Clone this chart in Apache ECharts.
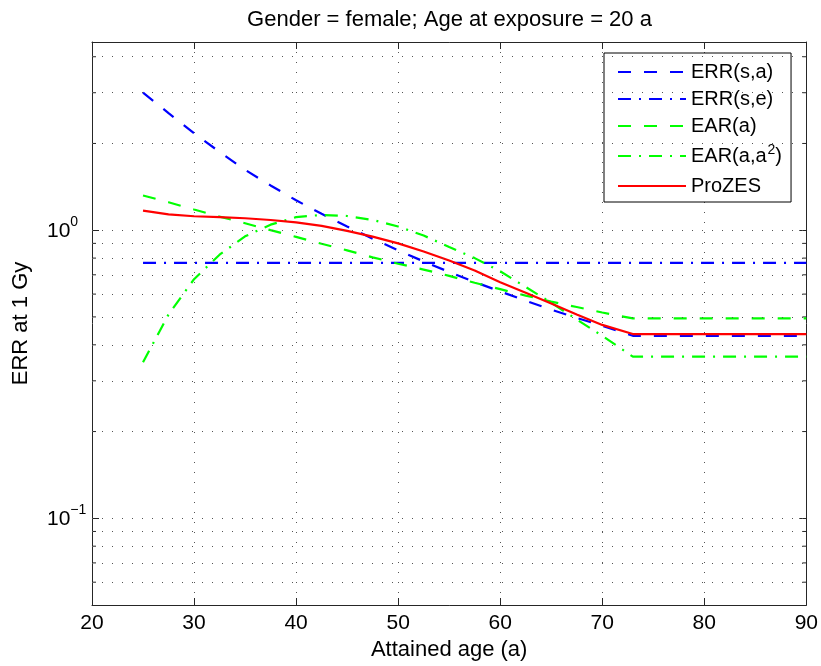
<!DOCTYPE html>
<html><head><meta charset="utf-8">
<script src="https://cdn.jsdelivr.net/npm/echarts@6/dist/echarts.min.js"></script>
<style>html,body{margin:0;padding:0;background:#fff}#c{width:821px;height:666px}</style>
</head><body><div id="c"></div>
<script>
// ---- data ----
const ages   = [25, 27.5, 30, 32.5, 35, 37.5, 40, 42.5, 45, 47.5, 50, 52.5, 55, 57.5, 60, 62.5, 65, 67.5, 70, 73, 90];
const errSA  = [3.00, 2.55, 2.17, 1.87, 1.62, 1.43, 1.27, 1.14, 1.03, 0.934, 0.852, 0.779, 0.716, 0.661, 0.613, 0.569, 0.530, 0.496, 0.466, 0.430, 0.430];
const errSEAges = [25, 90];
const errSE  = [0.77, 0.77];
const earA   = [1.32, 1.25, 1.18, 1.115, 1.057, 1.00, 0.948, 0.897, 0.851, 0.805, 0.765, 0.730, 0.694, 0.657, 0.624, 0.593, 0.565, 0.541, 0.518, 0.494, 0.494];
const earA2  = [0.348, 0.51, 0.676, 0.822, 0.952, 1.045, 1.11, 1.13, 1.12, 1.085, 1.03, 0.958, 0.875, 0.80, 0.72, 0.635, 0.56, 0.49, 0.43, 0.364, 0.364];
const prozes = [1.17, 1.135, 1.118, 1.11, 1.10, 1.085, 1.065, 1.035, 0.995, 0.950, 0.90, 0.843, 0.785, 0.725, 0.66, 0.607, 0.557, 0.51, 0.469, 0.436, 0.436];
const seriesNames = ['ERR(s,a)', 'ERR(s,e)', 'EAR(a)', 'EAR(a,a²)', 'ProZES'];
const xTicks = [20, 30, 40, 50, 60, 70, 80, 90];
const yMajor = [0.1, 1];
const yMinor = [0.06, 0.07, 0.08, 0.09, 0.2, 0.3, 0.4, 0.5, 0.6, 0.7, 0.8, 0.9, 2, 3, 4];
const xMin = 20, xMax = 90, yMin = 0.05, yMax = 4.5;
const titleText = 'Gender = female; Age at exposure = 20 a';
const xName = 'Attained age (a)';
const yName = 'ERR at 1 Gy';

// ---- chart ----
const FF = '"Liberation Sans", Arial, Helvetica, sans-serif';
const AX = '#262626';
const pair = (xs, ys) => xs.map((x, i) => [x, ys[i]]);
const DASH = [13, 13];
const DASHDOT = [13, 8, 2, 8];
const LW = 2.2;

function expLabel(v) {
  const l = Math.log10(v), e = Math.round(l);
  if (Math.abs(l - e) > 1e-6) return '';
  return '{b|10}{s|' + (e < 0 ? '\u2212' + (-e) : String(e)) + '}';
}
const expRich = {
  b: {fontSize: 21, fontFamily: FF, color: '#000', lineHeight: 21},
  s: {fontSize: 14, fontFamily: FF, color: '#000', lineHeight: 14, padding: [0, 0, 19, 0]}
};

const gridLines = yMajor.concat(yMinor).map(v => ({yAxis: v}));

const chart = echarts.init(document.getElementById('c'), null, {renderer: 'canvas'});
chart.setOption({
  animation: false,
  backgroundColor: '#fff',
  title: {
    text: titleText, left: 449.5, textAlign: 'center', top: 9, padding: 0,
    textStyle: {fontFamily: FF, fontSize: 22, fontWeight: 'normal', color: '#000'}
  },
  grid: {left: 92, right: 14, top: 42, bottom: 61, containLabel: false},
  legend: {
    orient: 'vertical', left: 604, top: 53,
    padding: [9, 9, 6, 13], itemGap: 7, itemWidth: 68, itemHeight: 14,
    backgroundColor: '#fff', borderColor: '#000', borderWidth: 1,
    data: seriesNames,
    itemStyle: {opacity: 0},
    textStyle: {fontFamily: FF, fontSize: 20, color: '#000', lineHeight: 20,
      rich: {
        t: {fontFamily: FF, fontSize: 20, color: '#000', lineHeight: 20},
        s: {fontFamily: FF, fontSize: 14, color: '#000', lineHeight: 14, padding: [0, 0, 12, 1]}
      }},
    formatter: n => n === 'EAR(a,a²)' ? '{t|EAR(a,a}{s|2}{t|)}' : n
  },
  xAxis: [{
    type: 'value', min: xMin, max: xMax, interval: 10, position: 'bottom',
    axisLine: {show: true, lineStyle: {color: AX, width: 1}},
    axisTick: {show: true, inside: true, length: 7, lineStyle: {color: AX}},
    axisLabel: {fontFamily: FF, fontSize: 21, color: '#000', margin: 8,
      formatter: v => xTicks.indexOf(v) >= 0 ? String(v) : ''},
    splitLine: {show: true, lineStyle: {color: '#555', width: 1, type: [1, 9]}},
    name: xName, nameLocation: 'middle', nameGap: 33,
    nameTextStyle: {fontFamily: FF, fontSize: 22, color: '#000'}
  }, {
    type: 'value', min: xMin, max: xMax, interval: 10, position: 'top',
    axisLine: {show: true, lineStyle: {color: AX, width: 1}},
    axisTick: {show: true, inside: true, length: 7, lineStyle: {color: AX}},
    axisLabel: {show: false}, splitLine: {show: false}
  }],
  yAxis: [{
    type: 'log', logBase: 10, min: yMin, max: yMax, position: 'left',
    axisLine: {show: true, lineStyle: {color: AX, width: 1}},
    axisTick: {show: true, inside: true, length: 7, lineStyle: {color: AX}},
    axisLabel: {formatter: expLabel, rich: expRich, margin: 45, align: 'left', padding: [2, 0, 0, 0]},
    splitLine: {show: false},
    name: yName, nameLocation: 'middle', nameGap: 60,
    nameTextStyle: {fontFamily: FF, fontSize: 22, color: '#000'}
  }, {
    type: 'log', logBase: 10, min: yMin, max: yMax, position: 'right',
    axisLine: {show: true, lineStyle: {color: AX, width: 1}},
    axisTick: {show: true, inside: true, length: 7, lineStyle: {color: AX}},
    axisLabel: {show: false}, splitLine: {show: false}
  }],
  series: [
    {
      name: 'minorTicks', type: 'custom', silent: true, z: 1,
      xAxisIndex: 0, yAxisIndex: 0,
      data: yMinor.map(v => [xMin, v]),
      renderItem: (params, api) => {
        const cs = params.coordSys;
        const p = api.coord([api.value(0), api.value(1)]);
        const st = {stroke: AX, lineWidth: 1};
        return {type: 'group', children: [
          {type: 'line', shape: {x1: cs.x, y1: p[1], x2: cs.x + 4, y2: p[1]}, style: st},
          {type: 'line', shape: {x1: cs.x + cs.width - 4, y1: p[1], x2: cs.x + cs.width, y2: p[1]}, style: st}
        ]};
      },
      markLine: {
        silent: true, symbol: 'none', label: {show: false},
        lineStyle: {color: '#555', width: 1, type: [1, 9]},
        data: gridLines
      }
    },
    {name: seriesNames[0], type: 'line', data: pair(ages, errSA), symbol: 'none',
      lineStyle: {color: '#0000ff', width: LW, type: DASH}, itemStyle: {color: '#0000ff'}},
    {name: seriesNames[1], type: 'line', data: pair(errSEAges, errSE), symbol: 'none',
      lineStyle: {color: '#0000ff', width: LW, type: DASHDOT}, itemStyle: {color: '#0000ff'}},
    {name: seriesNames[2], type: 'line', data: pair(ages, earA), symbol: 'none',
      lineStyle: {color: '#00ff00', width: LW, type: DASH}, itemStyle: {color: '#00ff00'}},
    {name: seriesNames[3], type: 'line', data: pair(ages, earA2), symbol: 'none',
      lineStyle: {color: '#00ff00', width: LW, type: DASHDOT}, itemStyle: {color: '#00ff00'}},
    {name: seriesNames[4], type: 'line', data: pair(ages, prozes), symbol: 'none',
      lineStyle: {color: '#ff0000', width: LW, type: 'solid'}, itemStyle: {color: '#ff0000'}}
  ]
});
</script>
</body></html>
